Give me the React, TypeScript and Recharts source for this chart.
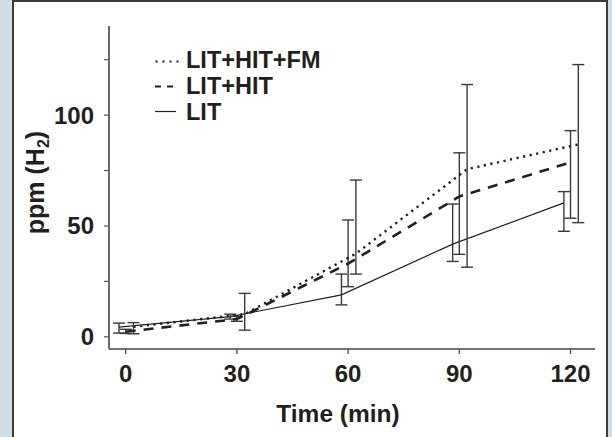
import React from 'react';
import { LineChart, Line, XAxis, YAxis, ErrorBar, Label } from 'recharts';

// Time points (min)
const times = [0, 30, 60, 90, 120];

// LIT (solid)
const litMean = [4.4, 9.1, 18.9, 41.8, 60.4];
const litLow = [1.7, 8.0, 14.4, 34.0, 47.6];
const litHigh = [6.2, 10.2, 28.3, 59.9, 65.5];

// LIT+HIT (dashed)
const litHitMean = [2.3, 8.0, 33.0, 63.3, 78.7];
const litHitLow = [1.5, 7.0, 22.6, 37.2, 53.5];
const litHitHigh = [3.4, 9.2, 52.7, 83.0, 93.0];

// LIT+HIT+FM (dotted)
const fmMean = [4.5, 10.2, 37.5, 75.6, 86.8];
const fmLow = [1.4, 3.0, 28.3, 31.4, 51.5];
const fmHigh = [6.4, 19.6, 70.7, 113.8, 122.8];

const xTicks = [0, 30, 60, 90, 120];
const yTicks = [0, 25, 50, 75, 100, 125];
const yLabelled = [0, 50, 100];

const seriesNames = ['LIT+HIT+FM', 'LIT+HIT', 'LIT'];

const build = (mean: number[], low: number[], high: number[], shift: number) =>
  times.map((t, i) => ({
    x: t + shift,
    y: mean[i],
    err: [mean[i] - low[i], high[i] - mean[i]],
  }));

const litData = build(litMean, litLow, litHigh, -1.8);
const litHitData = build(litHitMean, litHitLow, litHitHigh, 0);
const fmData = build(fmMean, fmLow, fmHigh, 2.1);

const INK = '#231f20';
const FONT = '"Liberation Sans", Arial, sans-serif';

function LegendOverlay() {
  const rows = [59.5, 85.5, 111.5];
  return (
    <svg
      width={612}
      height={437}
      style={{ position: 'absolute', left: 0, top: 0, pointerEvents: 'none' }}
    >
      {seriesNames.map((name, i) => {
        const y = rows[i];
        let sym: React.ReactNode;
        if (i === 0) {
          sym = <line x1={155.5} y1={y + 2} x2={180} y2={y + 2} stroke={INK} strokeWidth={2} strokeDasharray="2 5" />;
        } else if (i === 1) {
          sym = <line x1={155} y1={y + 1} x2={174} y2={y + 1} stroke={INK} strokeWidth={2} strokeDasharray="6 6" />;
        } else {
          sym = <line x1={155} y1={y} x2={176} y2={y} stroke={INK} strokeWidth={1.2} />;
        }
        return (
          <g key={name}>
            {sym}
            <text
              x={186}
              y={y + 8.5}
              fontFamily={FONT}
              fontWeight="bold"
              fontSize={23.5}
              fill={INK}
            >
              {name}
            </text>
          </g>
        );
      })}
    </svg>
  );
}

const XLabel = (props: any) => {
  const vb = props.viewBox || {};
  return (
    <text
      x={vb.x + vb.width / 2 - 14}
      y={vb.y + 73}
      textAnchor="middle"
      fontFamily={FONT}
      fontWeight="bold"
      fontSize={24.5}
      fill={INK}
    >
      Time (min)
    </text>
  );
};

const YLabel = (props: any) => {
  const vb = props.viewBox || {};
  const cx = 44;
  const cy = vb.y + vb.height / 2 - 5;
  return (
    <text
      x={cx}
      y={cy}
      transform={`rotate(-90 ${cx} ${cy})`}
      textAnchor="middle"
      fontFamily={FONT}
      fontWeight="bold"
      fontSize={25}
      fill={INK}
    >
      ppm (H
      <tspan fontSize={16} dy={5}>2</tspan>
      <tspan dy={-5}>)</tspan>
    </text>
  );
};

export default function App() {
  return (
    <div
      style={{
        position: 'absolute',
        left: 0,
        top: 0,
        width: 612,
        height: 437,
        overflow: 'hidden',
        background: '#d3dde6',
      }}
    >
      <div
        style={{
          position: 'absolute',
          left: 12,
          top: 0,
          width: 592,
          height: 480,
          background: '#ffffff',
          border: '2px solid #3a3a3a',
        }}
      />
      <div style={{ position: 'absolute', left: 0, top: 0 }}>
        <LineChart
          width={612}
          height={437}
          margin={{ top: 26, right: 17, bottom: 28, left: 0 }}
        >
          <XAxis
            dataKey="x"
            type="number"
            domain={[-4.5, 126.6]}
            allowDataOverflow
            ticks={xTicks}
            height={60}
            tickSize={5}
            tickMargin={11}
            axisLine={{ stroke: '#444', strokeWidth: 1.6 }}
            tickLine={{ stroke: '#555', strokeWidth: 1.4 }}
            tick={{ fontFamily: FONT, fontWeight: 'bold', fontSize: 24, fill: INK }}
          >
            <Label content={<XLabel />} />
          </XAxis>
          <YAxis
            type="number"
            domain={[-5.5, 140.2]}
            allowDataOverflow
            ticks={yTicks}
            width={109}
            tickSize={5}
            tickMargin={10}
            tickFormatter={(v: number) => (yLabelled.includes(v) ? String(v) : '')}
            axisLine={{ stroke: '#444', strokeWidth: 1.6 }}
            tickLine={{ stroke: '#555', strokeWidth: 1.2 }}
            tick={{ fontFamily: FONT, fontWeight: 'bold', fontSize: 24, fill: INK }}
          >
            <Label content={<YLabel />} />
          </YAxis>
          <Line
            data={litData}
            dataKey="y"
            name="LIT"
            stroke={INK}
            strokeWidth={1.2}
            dot={false}
            isAnimationActive={false}
          >
            <ErrorBar dataKey="err" direction="y" width={6} stroke="#3a3a3a" strokeWidth={1.4} />
          </Line>
          <Line
            data={litHitData}
            dataKey="y"
            name="LIT+HIT"
            stroke={INK}
            strokeWidth={2.6}
            strokeDasharray="10 8"
            dot={false}
            isAnimationActive={false}
          >
            <ErrorBar dataKey="err" direction="y" width={6} stroke="#3a3a3a" strokeWidth={1.4} />
          </Line>
          <Line
            data={fmData}
            dataKey="y"
            name="LIT+HIT+FM"
            stroke={INK}
            strokeWidth={2.4}
            strokeDasharray="2.2 4.5"
            dot={false}
            isAnimationActive={false}
          >
            <ErrorBar dataKey="err" direction="y" width={6} stroke="#3a3a3a" strokeWidth={1.4} />
          </Line>
        </LineChart>
      </div>
      <LegendOverlay />
    </div>
  );
}
